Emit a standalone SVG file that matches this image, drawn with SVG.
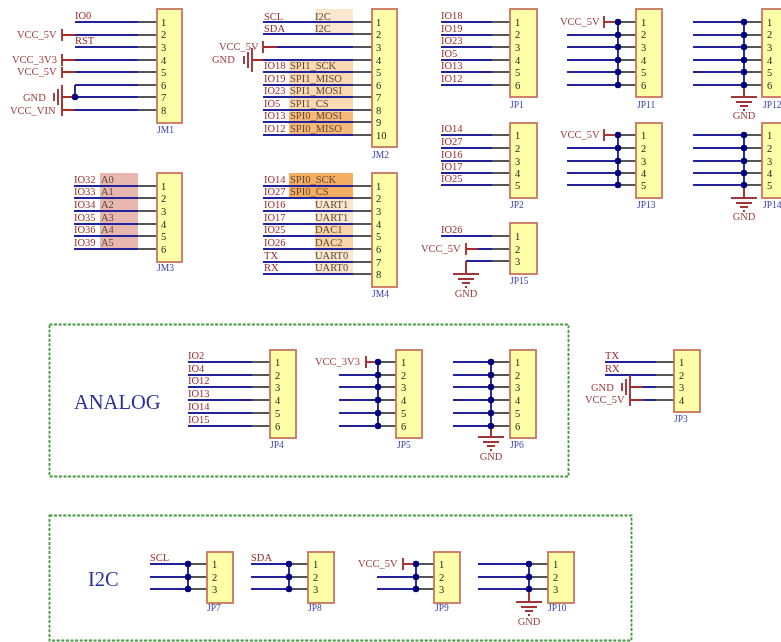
<svg xmlns="http://www.w3.org/2000/svg" width="781" height="642" viewBox="0 0 781 642">
<style>
text{font-family:"Liberation Serif","Times New Roman",serif;font-size:10.5px}
.b{fill:#ffffa8;stroke:#c9755f;stroke-width:1.8}
.n{fill:#222}
.d{fill:#3a3fb0;font-size:9.5px}
.l{fill:#9c2a2a}
.s{fill:#5e4a38}
.t{fill:#2a2e9e;font-size:20.5px}
.v{fill:#a03c3c}
.w,.g,.r,.p{fill:none;stroke-width:1.9}
.w{stroke:#23239a}
.g{stroke:#555}
.r{stroke:#a82a2a}
.p{stroke:#a03434}
.j{fill:#000080;stroke:none}
.f{fill:none;stroke:#3f9a38;stroke-width:1.8;stroke-dasharray:3 1.6}
</style>
<defs>
<filter id="soft" x="0" y="0" width="781" height="642" filterUnits="userSpaceOnUse"><feGaussianBlur stdDeviation="0.5"/></filter>
<g id="gnd" class="p"><path d="M-13 0H13M-8 5H8M-4 9H4M-1 13H1"/></g>
<g id="gndl" class="p"><path d="M0 -12V12M-4 -8V8M-8 -4V4"/></g>
<circle id="dot" r="3.200" class="j"/>
</defs>
<g id="sheet" filter="url(#soft)">
<rect x="0" y="0" width="781" height="642" fill="#fff"/>
<g id="highlights">
<rect x="315" y="9" width="38" height="26" fill="#fbe6cf"/>
<rect x="289" y="61" width="64" height="51" fill="#fbd9b2"/>
<rect x="289" y="112" width="64" height="23" fill="#f7b878"/>
<rect x="100" y="173" width="38" height="76" fill="#e8b8b0"/>
<rect x="289" y="173" width="64" height="25" fill="#f5ad62"/>
<rect x="315" y="198" width="38" height="26" fill="#fbe6cf"/>
<rect x="315" y="224" width="38" height="25" fill="#fbd4a8"/>
<rect x="315" y="249" width="38" height="25" fill="#fbe6cf"/>
</g>

<g id="frames">
<rect class="f" x="49.500" y="324.500" width="519" height="152"/>
<rect class="f" x="49.500" y="515.500" width="582" height="125"/>
<text class="t" x="74" y="409">ANALOG</text>
<text class="t" x="88" y="586">I2C</text>
</g>

<g id="connectors">
<path class="w" d="M75 22H138M75 35H138M75 47H138M75 60H138M75 72H138M75 85H138M75 97H138M75 110H138M75 85V97"/>
<path class="g" d="M138 22H157M138 35H157M138 47H157M138 60H157M138 72H157M138 85H157M138 97H157M138 110H157"/>
<path class="r" d="M62 35H75M62 60H75M62 72H75M62 97H75M62 110H75"/>
<use href="#dot" x="75" y="97"/>

<path class="w" d="M263 22H353M263 34H353M277 47H353M263 60H353M263 72H353M263 85H353M263 97H353M263 110H353M263 122H353M263 135H353"/>
<path class="g" d="M353 22H372M353 34H372M353 47H372M353 60H372M353 72H372M353 85H372M353 97H372M353 110H372M353 122H372M353 135H372"/>
<path class="r" d="M263 47H277M252 60H263"/>

<path class="w" d="M441 22H492M441 35H492M441 47H492M441 60H492M441 72H492M441 85H492"/>
<path class="g" d="M492 22H510M492 35H510M492 47H510M492 60H510M492 72H510M492 85H510"/>

<path class="w" d="M567 35H618M567 47H618M567 60H618M567 72H618M567 85H618M618 22V85"/>
<path class="g" d="M618 22H636M618 35H636M618 47H636M618 60H636M618 72H636M618 85H636"/>
<path class="r" d="M604 22H618"/>
<use href="#dot" x="618" y="22"/><use href="#dot" x="618" y="35"/><use href="#dot" x="618" y="47"/><use href="#dot" x="618" y="60"/><use href="#dot" x="618" y="72"/><use href="#dot" x="618" y="85"/>

<path class="w" d="M693 22H744M693 35H744M693 47H744M693 60H744M693 72H744M693 85H744M744 22V85"/>
<path class="g" d="M744 22H762M744 35H762M744 47H762M744 60H762M744 72H762M744 85H762"/>
<path class="r" d="M744 85V97"/>
<use href="#dot" x="744" y="22"/><use href="#dot" x="744" y="35"/><use href="#dot" x="744" y="47"/><use href="#dot" x="744" y="60"/><use href="#dot" x="744" y="72"/><use href="#dot" x="744" y="85"/>

<path class="w" d="M441 135H492M441 148H492M441 161H492M441 173H492M441 185H492"/>
<path class="g" d="M492 135H510M492 148H510M492 161H510M492 173H510M492 185H510"/>

<path class="w" d="M567 148H618M567 161H618M567 173H618M567 185H618M618 135V185"/>
<path class="g" d="M618 135H636M618 148H636M618 161H636M618 173H636M618 185H636"/>
<path class="r" d="M604 135H618"/>
<use href="#dot" x="618" y="135"/><use href="#dot" x="618" y="148"/><use href="#dot" x="618" y="161"/><use href="#dot" x="618" y="173"/><use href="#dot" x="618" y="185"/>

<path class="w" d="M693 135H744M693 148H744M693 161H744M693 173H744M693 185H744M744 135V185"/>
<path class="g" d="M744 135H762M744 148H762M744 161H762M744 173H762M744 185H762"/>
<path class="r" d="M744 185V198"/>
<use href="#dot" x="744" y="135"/><use href="#dot" x="744" y="148"/><use href="#dot" x="744" y="161"/><use href="#dot" x="744" y="173"/><use href="#dot" x="744" y="185"/>

<path class="w" d="M441 236H492M478 249H492M466 261H492"/>
<path class="g" d="M492 236H510M492 249H510M492 261H510"/>
<path class="r" d="M466 249H478M466 261V274"/>

<path class="w" d="M74 186H138M74 198H138M74 211H138M74 224H138M74 236H138M74 249H138"/>
<path class="g" d="M138 186H157M138 198H157M138 211H157M138 224H157M138 236H157M138 249H157"/>

<path class="w" d="M263 186H353M263 198H353M263 211H353M263 224H353M263 236H353M263 249H353M263 262H353M263 274H353"/>
<path class="g" d="M353 186H372M353 198H372M353 211H372M353 224H372M353 236H372M353 249H372M353 262H372M353 274H372"/>

<path class="w" d="M188 362H252M188 375H252M188 387H252M188 400H252M188 413H252M188 426H252"/>
<path class="g" d="M252 362H270M252 375H270M252 387H270M252 400H270M252 413H270M252 426H270"/>

<path class="w" d="M339 375H378M339 387H378M339 400H378M339 413H378M339 426H378M378 362V426"/>
<path class="g" d="M378 362H396M378 375H396M378 387H396M378 400H396M378 413H396M378 426H396"/>
<path class="r" d="M366 362H378"/>
<use href="#dot" x="378" y="362"/><use href="#dot" x="378" y="375"/><use href="#dot" x="378" y="387"/><use href="#dot" x="378" y="400"/><use href="#dot" x="378" y="413"/><use href="#dot" x="378" y="426"/>

<path class="w" d="M453 362H491M453 375H491M453 387H491M453 400H491M453 413H491M453 426H491M491 362V426"/>
<path class="g" d="M491 362H510M491 375H510M491 387H510M491 400H510M491 413H510M491 426H510"/>
<path class="r" d="M491 426V437"/>
<use href="#dot" x="491" y="362"/><use href="#dot" x="491" y="375"/><use href="#dot" x="491" y="387"/><use href="#dot" x="491" y="400"/><use href="#dot" x="491" y="413"/><use href="#dot" x="491" y="426"/>

<path class="w" d="M605 362H656M605 375H656M643 387H656M643 400H656"/>
<path class="g" d="M656 362H674M656 375H674M656 387H674M656 400H674"/>
<path class="r" d="M630 387H643M630 400H643"/>

<path class="w" d="M150 564H188M150 577H188M150 589H188M188 564V589"/>
<path class="g" d="M188 564H207M188 577H207M188 589H207"/>
<use href="#dot" x="188" y="564"/><use href="#dot" x="188" y="577"/><use href="#dot" x="188" y="589"/>

<path class="w" d="M251 564H289M251 577H289M251 589H289M289 564V589"/>
<path class="g" d="M289 564H308M289 577H308M289 589H308"/>
<use href="#dot" x="289" y="564"/><use href="#dot" x="289" y="577"/><use href="#dot" x="289" y="589"/>

<path class="w" d="M377 577H416M377 589H416M416 564V589"/>
<path class="g" d="M416 564H434M416 577H434M416 589H434"/>
<path class="r" d="M403 564H416"/>
<use href="#dot" x="416" y="564"/><use href="#dot" x="416" y="577"/><use href="#dot" x="416" y="589"/>

<path class="w" d="M478 564H529M478 577H529M478 589H529M529 564V589"/>
<path class="g" d="M529 564H548M529 577H548M529 589H548"/>
<path class="r" d="M529 589V602"/>
<use href="#dot" x="529" y="564"/><use href="#dot" x="529" y="577"/><use href="#dot" x="529" y="589"/>
</g>

<g id="power">
<path class="p" d="M62 29V41M62 54V66M62 67V78M62 104V116M263 41V53M604 16V28M604 129V141M466 243V255M366 356V368M630 394V406M403 558V570"/>
<use href="#gndl" x="62" y="97"/><use href="#gndl" x="252" y="60"/><use href="#gndl" x="630" y="387"/>
<use href="#gnd" x="744" y="97"/><use href="#gnd" x="744" y="198"/><use href="#gnd" x="466" y="274"/><use href="#gnd" x="491" y="437"/><use href="#gnd" x="529" y="602"/>
<text class="v" x="17" y="38">VCC_5V</text>
<text class="v" x="12" y="63">VCC_3V3</text>
<text class="v" x="17" y="75">VCC_5V</text>
<text class="v" x="23" y="101">GND</text>
<text class="v" x="10" y="114">VCC_VIN</text>
<text class="v" x="219" y="50">VCC_5V</text>
<text class="v" x="212" y="63">GND</text>
<text class="v" x="560" y="25">VCC_5V</text>
<text class="v" x="560" y="138">VCC_5V</text>
<text class="v" x="421" y="252">VCC_5V</text>
<text class="v" x="315" y="365">VCC_3V3</text>
<text class="v" x="591" y="391">GND</text>
<text class="v" x="585" y="403">VCC_5V</text>
<text class="v" x="358" y="567">VCC_5V</text>
<text class="v" x="744" y="119" text-anchor="middle">GND</text>
<text class="v" x="744" y="220" text-anchor="middle">GND</text>
<text class="v" x="466" y="297" text-anchor="middle">GND</text>
<text class="v" x="491" y="460" text-anchor="middle">GND</text>
<text class="v" x="529" y="625" text-anchor="middle">GND</text>
</g>

<g id="JM1">
<rect class="b" x="157" y="9" width="25" height="114"/>
<text class="n" x="161" y="26">1</text><text class="n" x="161" y="38">2</text><text class="n" x="161" y="51">3</text><text class="n" x="161" y="64">4</text><text class="n" x="161" y="76">5</text><text class="n" x="161" y="89">6</text><text class="n" x="161" y="101">7</text><text class="n" x="161" y="114">8</text>
<text class="d" x="157" y="133">JM1</text>
<text class="l" x="75" y="19">IO0</text><text class="l" x="75" y="44">RST</text>
</g>

<g id="JM2">
<rect class="b" x="372" y="9" width="25" height="138"/>
<text class="n" x="376" y="26">1</text><text class="n" x="376" y="38">2</text><text class="n" x="376" y="51">3</text><text class="n" x="376" y="64">4</text><text class="n" x="376" y="76">5</text><text class="n" x="376" y="89">6</text><text class="n" x="376" y="101">7</text><text class="n" x="376" y="114">8</text><text class="n" x="376" y="126">9</text><text class="n" x="376" y="139">10</text>
<text class="d" x="372" y="158">JM2</text>
<text class="l" x="264" y="20">SCL</text><text class="l" x="264" y="32">SDA</text>
<text class="s" x="315" y="20">I2C</text><text class="s" x="315" y="32">I2C</text>
<text class="l" x="264" y="69">IO18</text><text class="l" x="264" y="82">IO19</text><text class="l" x="264" y="94">IO23</text><text class="l" x="264" y="107">IO5</text><text class="l" x="264" y="119">IO13</text><text class="l" x="264" y="132">IO12</text>
<text class="s" x="290" y="69">SPI1_SCK</text><text class="s" x="290" y="82">SPI1_MISO</text><text class="s" x="290" y="94">SPI1_MOSI</text><text class="s" x="290" y="107">SPI1_CS</text><text class="s" x="290" y="119">SPI0_MOSI</text><text class="s" x="290" y="132">SPI0_MISO</text>
</g>

<g id="JP1">
<rect class="b" x="510" y="9" width="27" height="88"/>
<text class="n" x="515" y="26">1</text><text class="n" x="515" y="38">2</text><text class="n" x="515" y="51">3</text><text class="n" x="515" y="64">4</text><text class="n" x="515" y="76">5</text><text class="n" x="515" y="89">6</text>
<text class="d" x="510" y="108">JP1</text>
<text class="l" x="441" y="19">IO18</text><text class="l" x="441" y="32">IO19</text><text class="l" x="441" y="44">IO23</text><text class="l" x="441" y="57">IO5</text><text class="l" x="441" y="69">IO13</text><text class="l" x="441" y="82">IO12</text>
</g>

<g id="JP11">
<rect class="b" x="636" y="9" width="26" height="88"/>
<text class="n" x="641" y="26">1</text><text class="n" x="641" y="38">2</text><text class="n" x="641" y="51">3</text><text class="n" x="641" y="64">4</text><text class="n" x="641" y="76">5</text><text class="n" x="641" y="89">6</text>
<text class="d" x="637" y="108">JP11</text>
</g>

<g id="JP12">
<rect class="b" x="762" y="9" width="27" height="88"/>
<text class="n" x="767" y="26">1</text><text class="n" x="767" y="38">2</text><text class="n" x="767" y="51">3</text><text class="n" x="767" y="64">4</text><text class="n" x="767" y="76">5</text><text class="n" x="767" y="89">6</text>
<text class="d" x="763" y="108">JP12</text>
</g>

<g id="JP2">
<rect class="b" x="510" y="123" width="27" height="75"/>
<text class="n" x="515" y="139">1</text><text class="n" x="515" y="152">2</text><text class="n" x="515" y="165">3</text><text class="n" x="515" y="177">4</text><text class="n" x="515" y="189">5</text>
<text class="d" x="510" y="208">JP2</text>
<text class="l" x="441" y="132">IO14</text><text class="l" x="441" y="145">IO27</text><text class="l" x="441" y="158">IO16</text><text class="l" x="441" y="170">IO17</text><text class="l" x="441" y="182">IO25</text>
</g>

<g id="JP13">
<rect class="b" x="636" y="123" width="26" height="75"/>
<text class="n" x="641" y="139">1</text><text class="n" x="641" y="152">2</text><text class="n" x="641" y="165">3</text><text class="n" x="641" y="177">4</text><text class="n" x="641" y="189">5</text>
<text class="d" x="637" y="208">JP13</text>
</g>

<g id="JP14">
<rect class="b" x="762" y="123" width="27" height="75"/>
<text class="n" x="767" y="139">1</text><text class="n" x="767" y="152">2</text><text class="n" x="767" y="165">3</text><text class="n" x="767" y="177">4</text><text class="n" x="767" y="189">5</text>
<text class="d" x="763" y="208">JP14</text>
</g>

<g id="JP15">
<rect class="b" x="510" y="223" width="27" height="51"/>
<text class="n" x="515" y="240">1</text><text class="n" x="515" y="253">2</text><text class="n" x="515" y="265">3</text>
<text class="d" x="510" y="284">JP15</text>
<text class="l" x="441" y="233">IO26</text>
</g>

<g id="JM3">
<rect class="b" x="157" y="173" width="25" height="89"/>
<text class="n" x="161" y="190">1</text><text class="n" x="161" y="202">2</text><text class="n" x="161" y="215">3</text><text class="n" x="161" y="228">4</text><text class="n" x="161" y="240">5</text><text class="n" x="161" y="253">6</text>
<text class="d" x="157" y="271">JM3</text>
<text class="l" x="74" y="183">IO32</text><text class="l" x="74" y="195">IO33</text><text class="l" x="74" y="208">IO34</text><text class="l" x="74" y="221">IO35</text><text class="l" x="74" y="233">IO36</text><text class="l" x="74" y="246">IO39</text>
<text class="s" x="101" y="183">A0</text><text class="s" x="101" y="195">A1</text><text class="s" x="101" y="208">A2</text><text class="s" x="101" y="221">A3</text><text class="s" x="101" y="233">A4</text><text class="s" x="101" y="246">A5</text>
</g>

<g id="JM4">
<rect class="b" x="372" y="173" width="25" height="114"/>
<text class="n" x="376" y="190">1</text><text class="n" x="376" y="202">2</text><text class="n" x="376" y="215">3</text><text class="n" x="376" y="228">4</text><text class="n" x="376" y="240">5</text><text class="n" x="376" y="253">6</text><text class="n" x="376" y="266">7</text><text class="n" x="376" y="278">8</text>
<text class="d" x="372" y="297">JM4</text>
<text class="l" x="264" y="183">IO14</text><text class="l" x="264" y="195">IO27</text><text class="l" x="264" y="208">IO16</text><text class="l" x="264" y="221">IO17</text><text class="l" x="264" y="233">IO25</text><text class="l" x="264" y="246">IO26</text><text class="l" x="264" y="259">TX</text><text class="l" x="264" y="271">RX</text>
<text class="s" x="290" y="183">SPI0_SCK</text><text class="s" x="290" y="195">SPI0_CS</text>
<text class="s" x="315" y="208">UART1</text><text class="s" x="315" y="221">UART1</text><text class="s" x="315" y="233">DAC1</text><text class="s" x="315" y="246">DAC2</text><text class="s" x="315" y="259">UART0</text><text class="s" x="315" y="271">UART0</text>
</g>

<g id="JP4">
<rect class="b" x="270" y="350" width="26" height="88"/>
<text class="n" x="275" y="366">1</text><text class="n" x="275" y="379">2</text><text class="n" x="275" y="391">3</text><text class="n" x="275" y="404">4</text><text class="n" x="275" y="417">5</text><text class="n" x="275" y="430">6</text>
<text class="d" x="270" y="448">JP4</text>
<text class="l" x="188" y="359">IO2</text><text class="l" x="188" y="372">IO4</text><text class="l" x="188" y="384">IO12</text><text class="l" x="188" y="397">IO13</text><text class="l" x="188" y="410">IO14</text><text class="l" x="188" y="423">IO15</text>
</g>

<g id="JP5">
<rect class="b" x="396" y="350" width="26" height="88"/>
<text class="n" x="401" y="366">1</text><text class="n" x="401" y="379">2</text><text class="n" x="401" y="391">3</text><text class="n" x="401" y="404">4</text><text class="n" x="401" y="417">5</text><text class="n" x="401" y="430">6</text>
<text class="d" x="397" y="448">JP5</text>
</g>

<g id="JP6">
<rect class="b" x="510" y="350" width="26" height="88"/>
<text class="n" x="515" y="366">1</text><text class="n" x="515" y="379">2</text><text class="n" x="515" y="391">3</text><text class="n" x="515" y="404">4</text><text class="n" x="515" y="417">5</text><text class="n" x="515" y="430">6</text>
<text class="d" x="510" y="448">JP6</text>
</g>

<g id="JP3">
<rect class="b" x="674" y="350" width="26" height="62"/>
<text class="n" x="679" y="366">1</text><text class="n" x="679" y="379">2</text><text class="n" x="679" y="391">3</text><text class="n" x="679" y="404">4</text>
<text class="d" x="674" y="422">JP3</text>
<text class="l" x="605" y="359">TX</text><text class="l" x="605" y="372">RX</text>
</g>

<g id="JP7">
<rect class="b" x="207" y="552" width="26" height="51"/>
<text class="n" x="212" y="568">1</text><text class="n" x="212" y="581">2</text><text class="n" x="212" y="593">3</text>
<text class="d" x="207" y="611">JP7</text>
<text class="l" x="150" y="561">SCL</text>
</g>

<g id="JP8">
<rect class="b" x="308" y="552" width="26" height="51"/>
<text class="n" x="313" y="568">1</text><text class="n" x="313" y="581">2</text><text class="n" x="313" y="593">3</text>
<text class="d" x="308" y="611">JP8</text>
<text class="l" x="251" y="561">SDA</text>
</g>

<g id="JP9">
<rect class="b" x="434" y="552" width="26" height="51"/>
<text class="n" x="439" y="568">1</text><text class="n" x="439" y="581">2</text><text class="n" x="439" y="593">3</text>
<text class="d" x="435" y="611">JP9</text>
</g>

<g id="JP10">
<rect class="b" x="548" y="552" width="26" height="51"/>
<text class="n" x="553" y="568">1</text><text class="n" x="553" y="581">2</text><text class="n" x="553" y="593">3</text>
<text class="d" x="548" y="611">JP10</text>
</g>
</g>
</svg>
